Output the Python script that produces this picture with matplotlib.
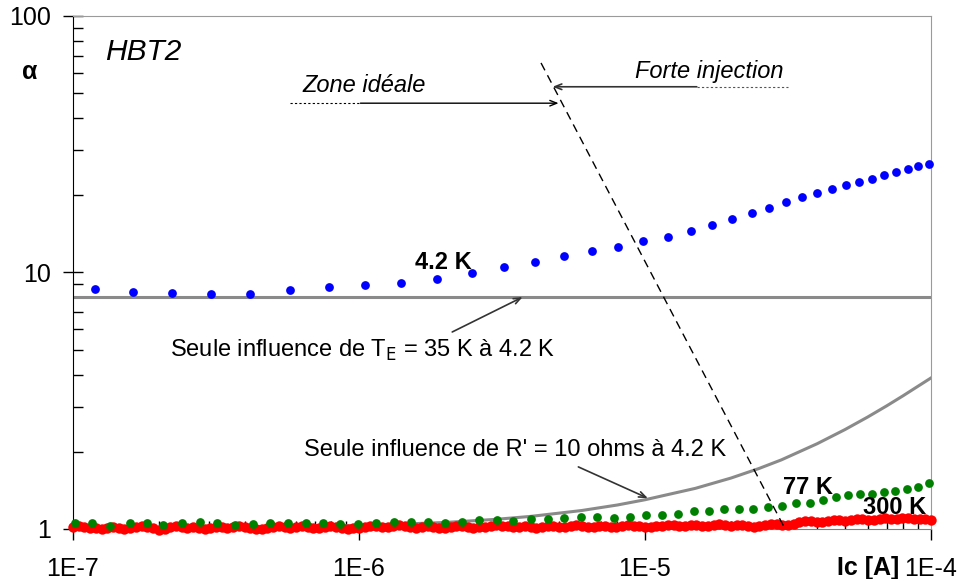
import numpy as np
import matplotlib
matplotlib.use("Agg")
import matplotlib.pyplot as plt
from matplotlib.ticker import LogLocator, NullFormatter, FixedLocator, FixedFormatter

plt.rcParams['font.family'] = ['Liberation Sans', 'DejaVu Sans']

# 4.2 K measurements
ic_42 = [1.19e-7, 1.62e-7, 2.22e-7, 3.04e-7, 4.16e-7, 5.74e-7, 7.85e-7, 1.05e-6, 1.40e-6,
         1.87e-6, 2.48e-6, 3.21e-6, 4.12e-6, 5.21e-6, 6.53e-6, 8.05e-6, 9.84e-6, 1.20e-5,
         1.45e-5, 1.71e-5, 2.01e-5, 2.37e-5, 2.72e-5, 3.11e-5, 3.54e-5, 3.99e-5, 4.51e-5,
         5.05e-5, 5.60e-5, 6.22e-5, 6.85e-5, 7.55e-5, 8.32e-5, 9.02e-5, 9.84e-5]
alpha_42 = [8.62, 8.40, 8.32, 8.24, 8.24, 8.55, 8.78, 8.94, 9.10,
            9.43, 9.96, 10.5, 11.0, 11.6, 12.1, 12.6, 13.3, 13.7,
            14.5, 15.3, 16.2, 17.1, 17.8, 18.8, 19.7, 20.4, 21.2,
            21.9, 22.5, 23.2, 24.0, 24.7, 25.3, 26.0, 26.5]

# 77 K measurements
ic_77 = [1.02e-7, 1.17e-7, 1.35e-7, 1.58e-7, 1.81e-7, 2.06e-7, 2.41e-7, 2.78e-7, 3.19e-7,
         3.68e-7, 4.26e-7, 4.88e-7, 5.65e-7, 6.53e-7, 7.48e-7, 8.59e-7, 9.93e-7, 1.15e-6,
         1.33e-6, 1.52e-6, 1.74e-6, 2.00e-6, 2.29e-6, 2.63e-6, 3.04e-6, 3.45e-6, 3.99e-6,
         4.58e-6, 5.21e-6, 5.97e-6, 6.79e-6, 7.80e-6, 8.87e-6, 1.01e-5, 1.15e-5, 1.30e-5,
         1.48e-5, 1.67e-5, 1.89e-5, 2.13e-5, 2.39e-5, 2.69e-5, 3.01e-5, 3.37e-5, 3.78e-5,
         4.19e-5, 4.65e-5, 5.13e-5, 5.65e-5, 6.22e-5, 6.85e-5, 7.48e-5, 8.24e-5, 9.02e-5,
         9.84e-5]
alpha_77 = [1.052, 1.052, 1.027, 1.052, 1.052, 1.034, 1.052, 1.062, 1.052,
            1.037, 1.046, 1.052, 1.052, 1.052, 1.052, 1.046, 1.043, 1.058,
            1.068, 1.068, 1.068, 1.052, 1.068, 1.084, 1.084, 1.074, 1.094,
            1.094, 1.104, 1.114, 1.114, 1.104, 1.114, 1.134, 1.134, 1.144,
            1.175, 1.175, 1.197, 1.197, 1.197, 1.218, 1.229, 1.263, 1.263,
            1.297, 1.333, 1.357, 1.369, 1.369, 1.394, 1.406, 1.432, 1.458,
            1.511]

# 300 K measurements (dense log sweep from 1E-7 to 1E-4)
alpha_300 = [1.02, 1.03, 1.02, 1.01, 1.01, 1.00, 1.01, 1.02, 1.01, 1.00,
             1.01, 1.02, 1.03, 1.02, 1.01, 0.995, 1.00, 1.02, 1.03, 1.02,
             1.01, 1.02, 1.01, 1.00, 1.01, 1.02, 1.02, 1.01, 1.02, 1.03,
             1.02, 1.01, 1.00, 1.00, 1.01, 1.02, 1.03, 1.02, 1.01, 1.02,
             1.03, 1.02, 1.01, 1.01, 1.02, 1.03, 1.02, 1.01, 1.00, 1.01,
             1.01, 1.02, 1.03, 1.03, 1.02, 1.02, 1.03, 1.04, 1.03, 1.02,
             1.01, 1.02, 1.03, 1.02, 1.01, 1.01, 1.02, 1.03, 1.03, 1.02,
             1.01, 1.02, 1.02, 1.03, 1.04, 1.03, 1.03, 1.02, 1.02, 1.03,
             1.02, 1.01, 1.02, 1.03, 1.03, 1.02, 1.02, 1.03, 1.04, 1.03,
             1.02, 1.02, 1.03, 1.03, 1.02, 1.02, 1.03, 1.04, 1.03, 1.03,
             1.02, 1.02, 1.03, 1.03, 1.04, 1.04, 1.03, 1.03, 1.04, 1.04,
             1.03, 1.03, 1.04, 1.05, 1.04, 1.03, 1.04, 1.04, 1.03, 1.02,
             1.03, 1.04, 1.05, 1.05, 1.04, 1.04, 1.05, 1.06, 1.07, 1.07,
             1.06, 1.06, 1.07, 1.08, 1.08, 1.07, 1.08, 1.09, 1.09, 1.08,
             1.08, 1.09, 1.10, 1.09, 1.09, 1.10, 1.10, 1.09, 1.09, 1.09, 1.08]
ic_300 = np.logspace(-7, -4, len(alpha_300))

# model curves
te_ic = [1e-7, 1e-4]
te_alpha = [8.0, 8.0]
r_ic = [1e-7, 3e-7, 1e-6, 2e-6, 3e-6, 4e-6, 6e-6, 8e-6, 1e-5, 1.5e-5, 2e-5, 2.5e-5,
        3e-5, 4e-5, 5e-5, 6e-5, 7e-5, 8e-5, 9e-5, 1e-4]
r_alpha = [1.00, 1.01, 1.03, 1.06, 1.09, 1.12, 1.18, 1.24, 1.30, 1.44, 1.58, 1.72,
           1.86, 2.15, 2.44, 2.73, 3.02, 3.31, 3.60, 3.88]

# boundary between ideal zone and strong injection
limit_ic = [4.33e-6, 3.09e-5]
limit_alpha = [65.6, 1.0]

fig = plt.figure(figsize=(9.59, 5.79), dpi=100)
ax = fig.add_axes([0.0761, 0.0864, 0.8947, 0.886])
ax.set_xscale('log')
ax.set_yscale('log')
ax.set_xlim(1e-7, 1e-4)
ax.set_ylim(1, 100)

ax.plot(te_ic, te_alpha, color='#8a8a8a', lw=2.2, zorder=2)
ax.plot(r_ic, r_alpha, color='#8a8a8a', lw=2.2, zorder=2)
ax.plot(ic_300, alpha_300, 'o', color='#ff0000', ms=7.5, mew=0, zorder=3, clip_on=False)
ax.plot(ic_77, alpha_77, 'o', color='#008000', ms=6.3, mew=0, zorder=4, clip_on=False)
ax.plot(ic_42, alpha_42, 'o', color='#0000ff', ms=6.3, mew=0, zorder=4, clip_on=False)
ax.plot(limit_ic, limit_alpha, color='black', lw=1.0, dashes=(6, 4), zorder=5)

# axes look
for s in ['top', 'right']:
    ax.spines[s].set_color('#9a9a9a')
ax.spines['left'].set_color('black')
ax.spines['bottom'].set_color('#808080')
ax.xaxis.set_major_locator(FixedLocator([1e-7, 1e-6, 1e-5, 1e-4]))
ax.xaxis.set_major_formatter(FixedFormatter(['1E-7', '1E-6', '1E-5', '1E-4']))
ax.xaxis.set_minor_locator(LogLocator(base=10, subs=np.arange(2, 10)))
ax.xaxis.set_minor_formatter(NullFormatter())
ax.yaxis.set_major_locator(FixedLocator([1, 10, 100]))
ax.yaxis.set_major_formatter(FixedFormatter(['1', '10', '100']))
ax.yaxis.set_minor_locator(LogLocator(base=10, subs=np.arange(2, 10)))
ax.yaxis.set_minor_formatter(NullFormatter())
ax.tick_params(axis='x', which='major', direction='out', length=8, width=1, labelsize=18, pad=12)
ax.tick_params(axis='x', which='minor', direction='in', length=6, width=1)
ax.tick_params(axis='y', which='major', direction='inout', length=15, width=1, labelsize=18, pad=8)
ax.tick_params(axis='y', which='minor', direction='in', length=7, width=1)

# labels
fig.text(30 / 959, 1 - 72 / 579, 'α', fontsize=18, fontweight='bold', ha='center', va='center')
fig.text(899 / 959, 1 - 568 / 579, 'Ic [A]', fontsize=18, fontweight='bold', ha='right', va='center')
ax.text(0.037, 0.930, 'HBT2', transform=ax.transAxes, fontsize=21.5, style='italic', va='center')
ax.text(0.399, 0.520, '4.2 K', transform=ax.transAxes, fontsize=17, fontweight='bold', va='center')
ax.text(0.828, 0.080, '77 K', transform=ax.transAxes, fontsize=17, fontweight='bold', va='center', zorder=6)
ax.text(0.921, 0.041, '300 K', transform=ax.transAxes, fontsize=17, fontweight='bold', va='center', zorder=6)

# zone annotations
ax.text(0.268, 0.865, 'Zone idéale', transform=ax.transAxes, fontsize=17, style='italic',
        ha='left', va='center')
ax.plot([0.253, 0.335], [0.830, 0.830], transform=ax.transAxes, color='black', lw=0.8,
        dashes=(2, 2), clip_on=False)
ax.annotate('', xy=(0.566, 0.830), xytext=(0.335, 0.830), xycoords='axes fraction',
            arrowprops=dict(arrowstyle='->,head_length=0.5,head_width=0.2', color='black', lw=1.0,
                            shrinkA=0, shrinkB=0))
ax.text(0.828, 0.891, 'Forte injection', transform=ax.transAxes, fontsize=17, style='italic',
        ha='right', va='center')
ax.plot([0.727, 0.833], [0.862, 0.862], transform=ax.transAxes, color='#555555', lw=0.8,
        dashes=(2, 2), clip_on=False)
ax.annotate('', xy=(0.559, 0.862), xytext=(0.727, 0.862), xycoords='axes fraction',
            arrowprops=dict(arrowstyle='->,head_length=0.5,head_width=0.2', color='#333333', lw=1.2,
                            shrinkA=0, shrinkB=0))

# model annotations
ax.text(0.113, 0.349, 'Seule influence de T$_{\\mathrm{E}}$ = 35 K à 4.2 K', transform=ax.transAxes,
        fontsize=17, va='center')
ax.annotate('', xy=(0.524, 0.452), xytext=(0.442, 0.384), xycoords='axes fraction',
            arrowprops=dict(arrowstyle='->,head_length=0.5,head_width=0.2', color='#333333', lw=1.2,
                            shrinkA=0, shrinkB=0))
ax.text(0.269, 0.154, "Seule influence de R' = 10 ohms à 4.2 K", transform=ax.transAxes,
        fontsize=17, va='center')
ax.annotate('', xy=(0.670, 0.060), xytext=(0.589, 0.121), xycoords='axes fraction',
            arrowprops=dict(arrowstyle='->,head_length=0.5,head_width=0.2', color='#333333', lw=1.2,
                            shrinkA=0, shrinkB=0))

fig.savefig('out.png', dpi=100)
